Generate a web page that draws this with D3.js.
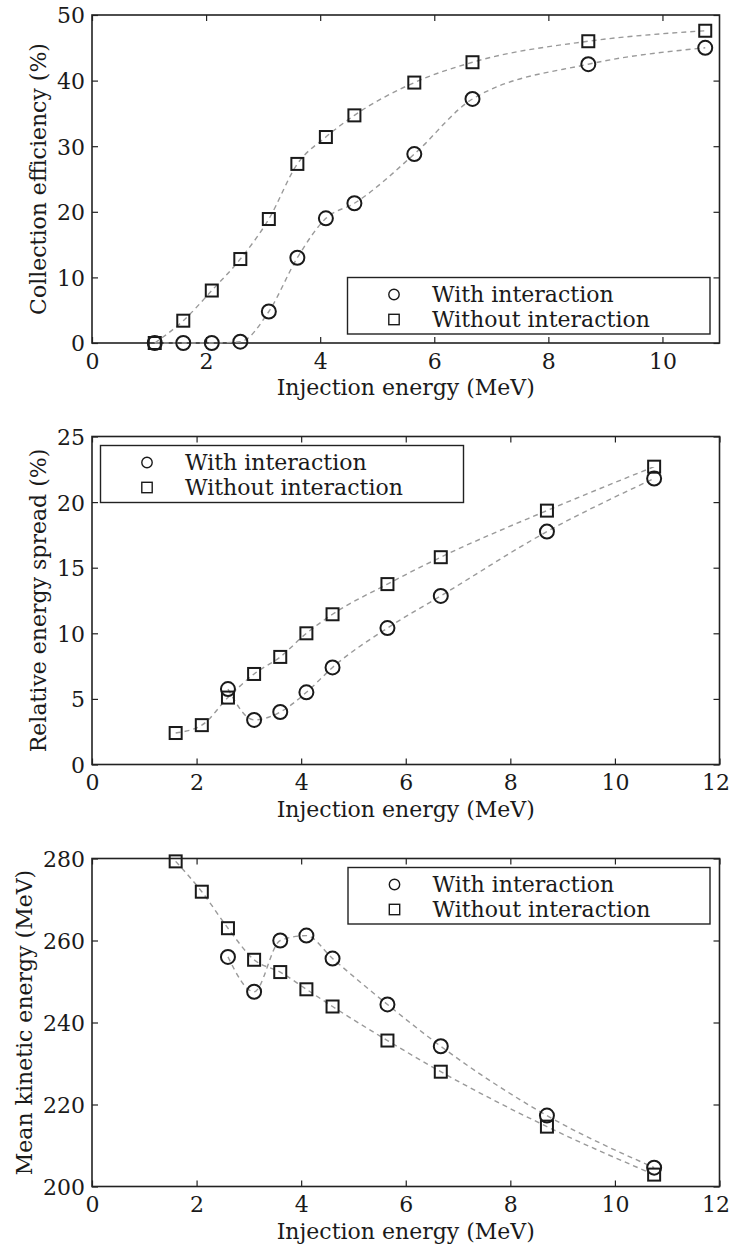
<!DOCTYPE html>
<html>
<head>
<meta charset="utf-8">
<script src="https://cdn.jsdelivr.net/npm/d3@7"></script>
<style>
  html, body { margin: 0; padding: 0; background: #fff; }
  svg { display: block; }
  text { font-family: "DejaVu Serif", "Liberation Serif", serif; fill: #1a1a1a; }
</style>
</head>
<body>
<svg id="chart" width="731" height="1245"></svg>
<script>
// Injection energies (MeV) at which the bunches were simulated
const energy = [1.1, 1.6, 2.1, 2.6, 3.1, 3.6, 4.1, 4.6, 5.65, 6.67, 8.7, 10.75];

// Collection efficiency (%)
const efficiencyWith    = [0, 0, 0, 0.2, 4.8, 13.0, 19.0, 21.3, 28.8, 37.2, 42.5, 45.0];
const efficiencyWithout = [0, 3.4, 8.0, 12.8, 18.9, 27.3, 31.4, 34.7, 39.7, 42.8, 46.0, 47.6];

// Relative energy spread (%) — null where no bunch was collected
const spreadWith    = [null, null, null, 5.75, 3.4, 4.0, 5.5, 7.4, 10.4, 12.85, 17.75, 21.8];
const spreadWithout = [null, 2.4, 3.0, 5.1, 6.9, 8.2, 10.0, 11.45, 13.75, 15.8, 19.35, 22.7];

// Mean kinetic energy (MeV)
const kineticWith    = [null, null, null, 256.0, 247.5, 260.0, 261.2, 255.6, 244.4, 234.2, 217.3, 204.6];
const kineticWithout = [null, 279.3, 271.9, 263.0, 255.3, 252.3, 248.1, 243.9, 235.6, 228.0, 214.6, 202.9];

const seriesNames = ["With interaction", "Without interaction"];

const xTicks1 = [0, 2, 4, 6, 8, 10];
const xTicks2 = [0, 2, 4, 6, 8, 10, 12];
const yTicksEff = [0, 10, 20, 30, 40, 50];
const yTicksSpread = [0, 5, 10, 15, 20, 25];
const yTicksKinetic = [200, 220, 240, 260, 280];

const xTitle = "Injection energy (MeV)";

const svg = d3.select("#chart");

const left = 92, right = 719.5, plotH = 328;

const panels = [
  { top: 15,    xMax: 11, xTicks: xTicks1, yDomain: [0, 50],    yTicks: yTicksEff,
    yTitle: "Collection efficiency (%)", yTitleX: 38,
    series: [efficiencyWith, efficiencyWithout],
    legend: { x: 347.5, y: 277.5, w: 362.5, h: 56.5 } },
  { top: 436.5, xMax: 12, xTicks: xTicks2, yDomain: [0, 25],    yTicks: yTicksSpread,
    yTitle: "Relative energy spread (%)", yTitleX: 38,
    series: [spreadWith, spreadWithout],
    legend: { x: 100.5, y: 445.5, w: 363, h: 57 } },
  { top: 858.5, xMax: 12, xTicks: xTicks2, yDomain: [200, 280], yTicks: yTicksKinetic,
    yTitle: "Mean kinetic energy (MeV)", yTitleX: 24,
    series: [kineticWith, kineticWithout],
    legend: { x: 348, y: 867.5, w: 362, h: 56.5 } }
];

const markerStroke = "#1a1a1a";
const lineColor = "#9a9a9a";

function drawMarker(g, kind, cx, cy, size, width) {
  if (kind === 0) {
    g.append("circle").attr("cx", cx).attr("cy", cy).attr("r", size)
      .attr("fill", "none").attr("stroke", markerStroke).attr("stroke-width", width);
  } else {
    g.append("rect").attr("x", cx - size).attr("y", cy - size)
      .attr("width", 2 * size).attr("height", 2 * size)
      .attr("fill", "none").attr("stroke", markerStroke).attr("stroke-width", width);
  }
}

panels.forEach(p => {
  const bottom = p.top + plotH;
  const x = d3.scaleLinear().domain([0, p.xMax]).range([left, right]);
  const y = d3.scaleLinear().domain(p.yDomain).range([bottom, p.top]);
  const g = svg.append("g");

  // axes with inward ticks on all four sides
  const axB = g.append("g").attr("transform", `translate(0,${bottom})`)
    .call(d3.axisBottom(x).tickValues(p.xTicks).tickSizeInner(-6).tickSizeOuter(0).tickPadding(10));
  const axT = g.append("g").attr("transform", `translate(0,${p.top})`)
    .call(d3.axisTop(x).tickValues(p.xTicks).tickSizeInner(-6).tickSizeOuter(0).tickFormat(""));
  const axL = g.append("g").attr("transform", `translate(${left},0)`)
    .call(d3.axisLeft(y).tickValues(p.yTicks).tickSizeInner(-6).tickSizeOuter(0).tickPadding(7));
  const axR = g.append("g").attr("transform", `translate(${right},0)`)
    .call(d3.axisRight(y).tickValues(p.yTicks).tickSizeInner(-6).tickSizeOuter(0).tickFormat(""));
  [axB, axT, axL, axR].forEach(a => {
    a.select(".domain").remove();
    a.selectAll(".tick line").attr("stroke", "#222").attr("stroke-width", 1.2);
    a.selectAll(".tick text").attr("font-family", "DejaVu Serif").attr("font-size", 22).attr("fill", "#1a1a1a");
  });
  axL.selectAll(".tick text").attr("dy", "0.36em");
  // keep a tick label that sits on the right border inside the page
  axB.selectAll(".tick text").filter(d => x(d) + 14 > 729).attr("dx", -4);

  g.append("rect").attr("x", left).attr("y", p.top)
    .attr("width", right - left).attr("height", plotH)
    .attr("fill", "none").attr("stroke", "#222").attr("stroke-width", 1.6);

  // dashed guide curves through the points
  const line = d3.line()
    .defined(d => d[1] !== null)
    .x(d => x(d[0])).y(d => y(d[1]))
    .curve(d3.curveMonotoneX);

  p.series.forEach((vals, k) => {
    const pts = energy.map((e, i) => [e, vals[i]]).filter(d => d[1] !== null);
    g.append("path").datum(pts).attr("d", line)
      .attr("fill", "none").attr("stroke", lineColor).attr("stroke-width", 1.4)
      .attr("stroke-dasharray", "5,4");
  });
  p.series.forEach((vals, k) => {
    energy.forEach((e, i) => {
      if (vals[i] === null) return;
      drawMarker(g, k, x(e), y(vals[i]), k === 0 ? 7 : 6, 2);
    });
  });

  // legend
  const L = p.legend;
  g.append("rect").attr("x", L.x).attr("y", L.y).attr("width", L.w).attr("height", L.h)
    .attr("fill", "#fff").attr("stroke", "#222").attr("stroke-width", 1.4);
  seriesNames.forEach((name, k) => {
    const cy = L.y + 17 + k * 25;
    drawMarker(g, k, L.x + 46.5, cy, 5.2, 1.4);
    g.append("text").attr("x", L.x + 84.5).attr("y", cy).attr("dy", "0.36em")
      .attr("font-size", 22).text(name);
  });

  // axis titles
  g.append("text").attr("x", (left + right) / 2).attr("y", bottom + 52)
    .attr("text-anchor", "middle").attr("font-size", 22).text(xTitle);
  g.append("text")
    .attr("transform", `translate(${p.yTitleX},${(p.top + bottom) / 2}) rotate(-90)`)
    .attr("text-anchor", "middle").attr("dy", "0.36em").attr("font-size", 22).text(p.yTitle);
});
</script>
</body>
</html>
